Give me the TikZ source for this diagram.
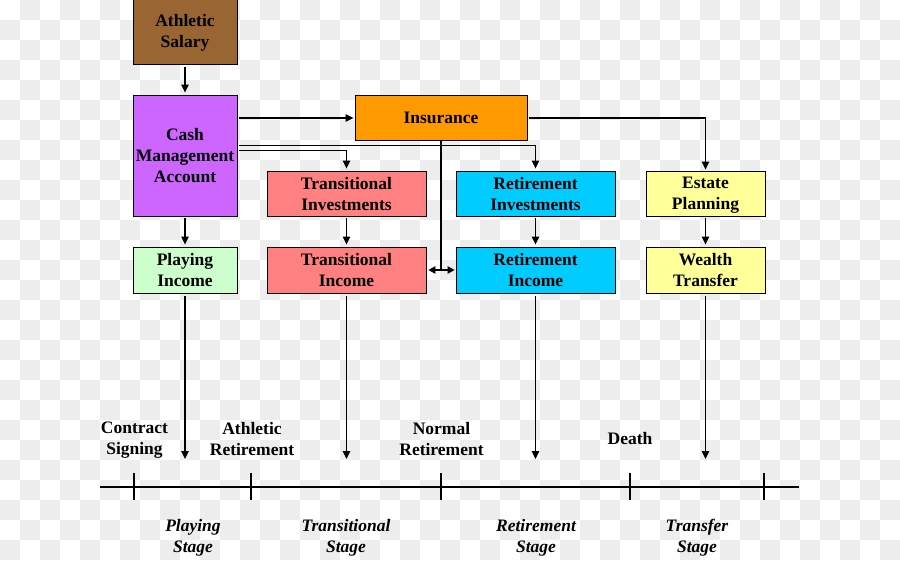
\documentclass[tikz,border=0pt]{standalone}
\usepackage{fontspec}
\setmainfont{Liberation Serif}
\usetikzlibrary{arrows.meta}
\definecolor{chk}{HTML}{EDEDED}
\definecolor{salary}{HTML}{996633}
\definecolor{cash}{HTML}{CC66FF}
\definecolor{insur}{HTML}{FF9900}
\definecolor{trans}{HTML}{FF8080}
\definecolor{retire}{HTML}{00CCFF}
\definecolor{estate}{HTML}{FFFF99}
\definecolor{playing}{HTML}{CCFFCC}
\tikzset{
  box/.style   = {draw=black, line width=0.9pt, inner sep=0pt, align=center, text depth=0pt,
                  font=\fontsize{17.5}{21}\selectfont\bfseries},
  ev/.style    = {inner sep=0pt, align=center, text depth=0pt, font=\fontsize{17.5}{21}\selectfont\bfseries},
  stage/.style = {inner sep=0pt, align=center, text depth=0pt, font=\fontsize{17.5}{21}\selectfont\bfseries\itshape},
  arr/.style   = {-{Triangle[length=8pt,width=7.5pt]}, line width=1.1pt},
  darr/.style  = {{Triangle[length=7pt,width=7.5pt]}-{Triangle[length=7pt,width=7.5pt]}, line width=1.1pt},
  wire/.style  = {line width=1.1pt},
  axis/.style  = {line width=2.2pt},
}

\begin{document}
\begin{tikzpicture}[x=1pt,y=-1pt]
\path[use as bounding box] (0,0) rectangle (900,560);

% checkered ground
\fill[white] (0,0) rectangle (900,560);
\foreach \i in {0,...,44}{
  \foreach \j in {0,...,27}{
    \pgfmathtruncatemacro\odd{mod(\i+\j,2)}
    \ifnum\odd=1 \fill[chk] (20*\i,20*\j) rectangle +(20,20); \fi
  }
}

% ---------- boxes -------------------------------------------------------
\node[box, fill=salary,  minimum width=104pt, minimum height=66pt] (sal)  at (185,31)    {Athletic\\Salary};
\node[box, fill=cash,    minimum width=104pt, minimum height=121pt] (cma) at (185,155.5) {Cash\\Management\\Account};
\node[box, fill=insur,   minimum width=172pt, minimum height=45pt] (ins)  at (441,118)   {Insurance};

\node[box, fill=trans,   minimum width=159pt, minimum height=45pt] (tinv) at (346.5,193.5) {Transitional\\Investments};
\node[box, fill=retire,  minimum width=159pt, minimum height=45pt] (rinv) at (535.5,193.5) {Retirement\\Investments};
\node[box, fill=estate,  minimum width=119pt, minimum height=45pt] (est)  at (705.5,193.5) {Estate\\Planning};

\node[box, fill=playing, minimum width=104pt, minimum height=46pt] (pinc) at (185,270)   {Playing\\Income};
\node[box, fill=trans,   minimum width=159pt, minimum height=46pt] (tinc) at (346.5,270) {Transitional\\Income};
\node[box, fill=retire,  minimum width=159pt, minimum height=46pt] (rinc) at (535.5,270) {Retirement\\Income};
\node[box, fill=estate,  minimum width=119pt, minimum height=46pt] (wt)   at (705.5,270) {Wealth\\Transfer};

% ---------- connectors --------------------------------------------------
\draw[arr, shorten <=3pt, shorten >=2pt] (sal) -- (cma);
\draw[arr, shorten <=2pt, shorten >=1pt] (cma.east |- ins.west) -- (ins.west);
\draw[arr, shorten <=2pt, shorten >=1pt] (ins.east) -| (est.north);
\draw[arr, shorten <=2pt, shorten >=2pt] ([yshift=10pt]cma.east) -| (rinv.north);
\draw[arr, shorten <=2pt, shorten >=2pt] ([yshift=5pt]cma.east) -| (tinv.north);

\coordinate (jn) at (441,269);
\draw[wire] (ins.south) -- (jn);
\draw[darr, shorten <=2pt, shorten >=1pt] (tinc.east) -- (rinc.west);

\draw[arr, shorten <=2pt, shorten >=2pt] (cma) -- (pinc);
\draw[arr, shorten <=2pt, shorten >=2pt] (tinv) -- (tinc);
\draw[arr, shorten <=2pt, shorten >=2pt] (rinv) -- (rinc);
\draw[arr, shorten <=2pt, shorten >=2pt] (est) -- (wt);

% down to the time line
\coordinate (pe) at (185,459);
\coordinate (te) at (346.5,459);
\coordinate (re) at (535.5,459);
\coordinate (we) at (705.5,459);
\draw[arr, shorten <=3pt] (pinc.south) -- (pe);
\draw[arr, shorten <=3pt] (tinc.south) -- (te);
\draw[arr, shorten <=3pt] (rinc.south) -- (re);
\draw[arr, shorten <=3pt] (wt.south)   -- (we);

% ---------- time line ---------------------------------------------------
\coordinate (a0) at (100,487);
\coordinate (a1) at (799,487);
\draw[axis] (a0) -- (a1);
\foreach \x in {134,251,441,630,764}{
  \draw[axis] (\x,473) -- (\x,500);
}

\node[ev] (cs) at (134.5,438.5) {Contract\\Signing};
\node[ev] (ar) at (252,438.5)   {Athletic\\Retirement};
\node[ev] (nr) at (441.5,438.5) {Normal\\Retirement};
\node[ev] (dt) at (630,438)     {Death};

\node[stage] (ps) at (193,535.5) {Playing\\Stage};
\node[stage] (ts) at (346,535.5) {Transitional\\Stage};
\node[stage] (rs) at (536,535.5) {Retirement\\Stage};
\node[stage] (fs) at (697,535.5) {Transfer\\Stage};

\end{tikzpicture}
\end{document}
